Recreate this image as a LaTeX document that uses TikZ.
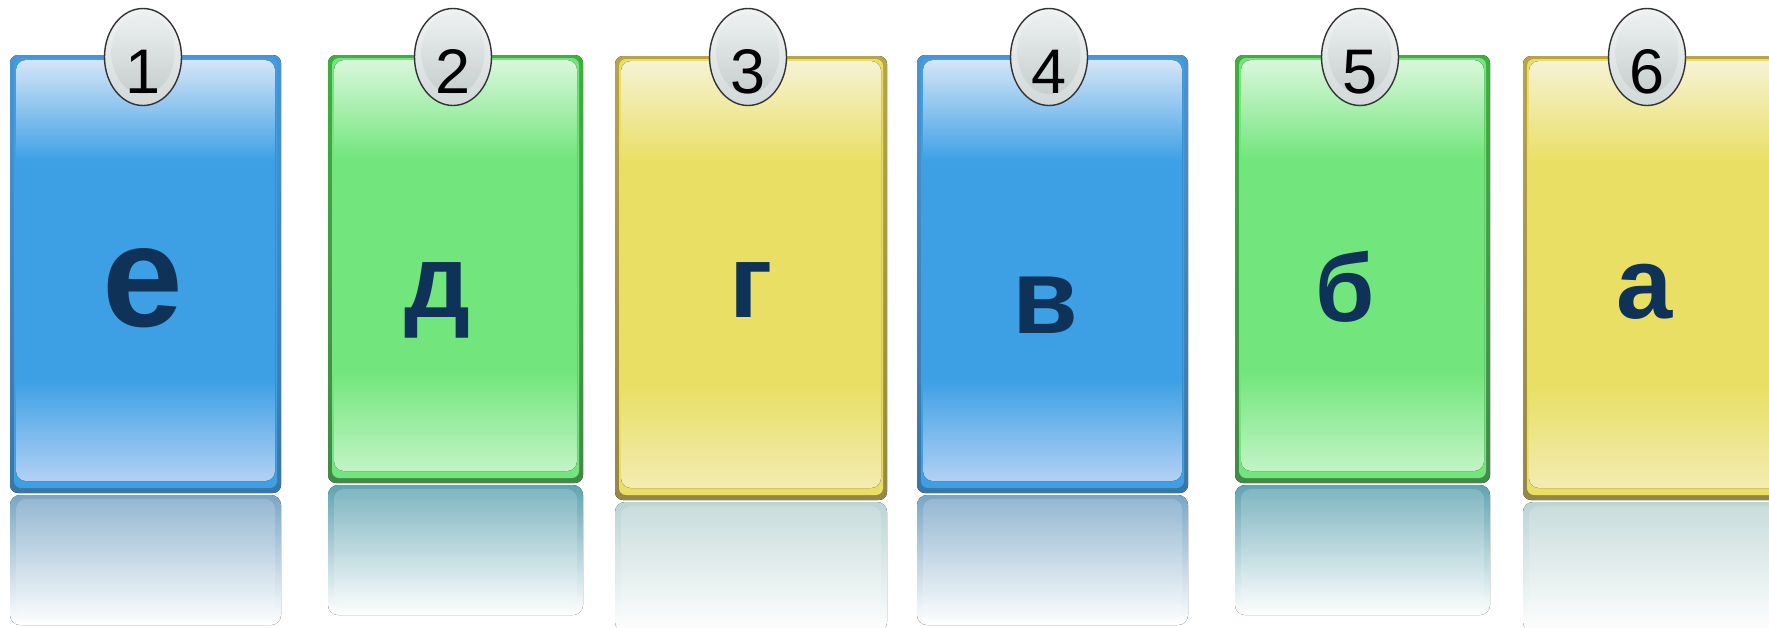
\documentclass[tikz,border=0pt]{standalone}
\usepackage{fontspec}
\setmainfont{Liberation Sans}
\usetikzlibrary{shapes.geometric}

\definecolor{blueFT}{HTML}{4A94D4}
\definecolor{blueFB}{HTML}{3A76A6}
\definecolor{blueM}{HTML}{3DA0E5}
\definecolor{blueLT}{HTML}{D5E5F7}
\definecolor{blueLB}{HTML}{B2D1F4}
\definecolor{blueR}{HTML}{7AA6C6}
\definecolor{greenFT}{HTML}{3CB03C}
\definecolor{greenFB}{HTML}{428A48}
\definecolor{greenM}{HTML}{72E67C}
\definecolor{greenLT}{HTML}{DAF7DC}
\definecolor{greenLB}{HTML}{C2F4C6}
\definecolor{greenR}{HTML}{60A4B2}
\definecolor{yellowFT}{HTML}{B8A448}
\definecolor{yellowFB}{HTML}{968844}
\definecolor{yellowM}{HTML}{E9DF64}
\definecolor{yellowLT}{HTML}{F6F2D4}
\definecolor{yellowLB}{HTML}{F2ECB2}
\definecolor{yellowR}{HTML}{BCD4D4}
\definecolor{letterC}{HTML}{0F3358}
\definecolor{badgeLine}{HTML}{333333}
\definecolor{badgeT}{HTML}{F2F4F4}
\definecolor{badgeB}{HTML}{D2D9D9}
\definecolor{badgeIT}{HTML}{EEF1F1}
\definecolor{badgeIB}{HTML}{C6CECE}

\pgfdeclareverticalshading{cardblue}{100bp}{color(0bp)=(blueLB); color(25bp)=(blueLB); color(37bp)=(blueM); color(63bp)=(blueM); color(75bp)=(blueLT); color(100bp)=(blueLT)}
\pgfdeclareverticalshading{cardgreen}{100bp}{color(0bp)=(greenLB); color(25bp)=(greenLB); color(37bp)=(greenM); color(63bp)=(greenM); color(75bp)=(greenLT); color(100bp)=(greenLT)}
\pgfdeclareverticalshading{cardyellow}{100bp}{color(0bp)=(yellowLB); color(25bp)=(yellowLB); color(37bp)=(yellowM); color(63bp)=(yellowM); color(75bp)=(yellowLT); color(100bp)=(yellowLT)}

% #1 x1, #2 x2, #3 ytop, #4 ybot, #5 colour set
\newcommand{\mkcard}[5]{%
  \fill[rounded corners=10pt, top color=#5R, bottom color=white]
    (#1,{#4+2}) rectangle (#2,{#4+132});
  \fill[rounded corners=10pt, white, opacity=0.18]
    ({#1+6},{#4+6}) rectangle ({#2-6},{#4+122});
  \fill[rounded corners=8pt, top color=#5FT, bottom color=#5FB]
    (#1,#3) rectangle (#2,#4);
  \fill[rounded corners=7pt, #5M]
    ({#1+4},{#3+3}) rectangle ({#2-4},{#4-5});
  \fill[rounded corners=10pt, shading=card#5]
    ({#1+6},{#3+5}) rectangle ({#2-6},{#4-12});
}

\tikzset{
  letter/.style={anchor=base, inner sep=0pt, text=letterC},
  badge/.style={ellipse, minimum width=77pt, minimum height=97pt, inner sep=0pt,
    draw=badgeLine, line width=1.4pt, top color=badgeT, bottom color=badgeB},
  badgein/.style={ellipse, minimum width=63pt, minimum height=82pt, inner sep=0pt,
    top color=badgeIT, bottom color=badgeIB},
  digit/.style={anchor=base, inner sep=0pt, text=black,
    font=\fontsize{63pt}{66pt}\selectfont},
}

\begin{document}
\begin{tikzpicture}[x=1pt, y=-1pt]
\useasboundingbox (0,0) rectangle (1769,627);
\clip (0,0) rectangle (1769,627);
\fill[white] (0,0) rectangle (1769,627);

\mkcard{10}{281}{55}{493}{blue}
\mkcard{328}{583}{55}{483}{green}
\mkcard{615}{887}{56}{500}{yellow}
\mkcard{917}{1188}{55}{493}{blue}
\mkcard{1235}{1490}{55}{483}{green}
\mkcard{1523}{1795}{56}{500}{yellow}

\node[letter, font=\fontsize{145pt}{150pt}\selectfont\bfseries] (L1) at (143,326) {е};
\node[letter, font=\fontsize{104pt}{110pt}\selectfont\bfseries] (L2) at (438,317) {д};
\node[letter, font=\fontsize{104pt}{110pt}\selectfont\bfseries] (L3) at (751,317) {г};
\node[letter, font=\fontsize{107pt}{110pt}\selectfont\bfseries] (L4) at (1045,333) {в};
\node[letter, font=\fontsize{96pt}{110pt}\selectfont\bfseries] (L5) at (1345,321) {б};
\node[letter, font=\fontsize{101pt}{110pt}\selectfont\bfseries] (L6) at (1645,318) {а};

\foreach \bx/\d in {143/1, 453/2, 748/3, 1049/4, 1360/5, 1647/6} {
  \node[badge] (B\d) at (\bx,57) {};
  \node[badgein] (I\d) at (\bx,53) {};
  \node[digit] (D\d) at (\bx,93) {\d};
}
\end{tikzpicture}
\end{document}
